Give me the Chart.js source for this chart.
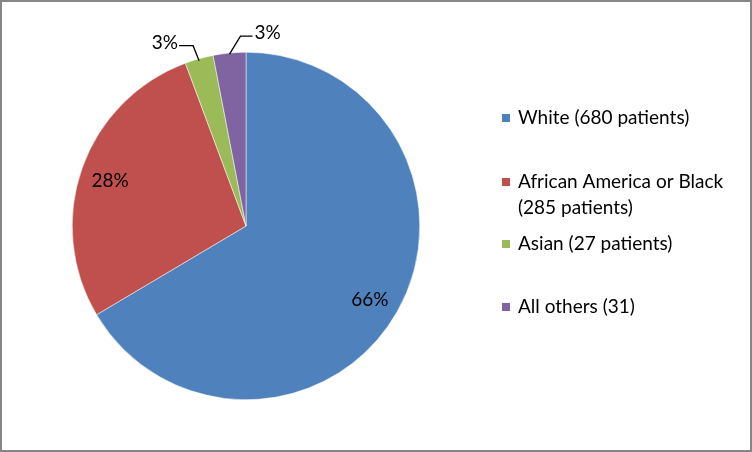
<!DOCTYPE html>
<html>
<head>
<meta charset="utf-8">
<script src="https://cdn.jsdelivr.net/npm/chart.js@4/dist/chart.umd.min.js"></script>
<style>
  html, body { margin: 0; padding: 0; background: #fff; }
  #wrap { position: relative; width: 752px; height: 452px; box-sizing: border-box; border: 2px solid #868686; }
  canvas { display: block; }
</style>
</head>
<body>
<div id="wrap"><canvas id="raceChart" width="748" height="448"></canvas></div>
<script>
const categories = ['White (680 patients)', 'African America or Black (285 patients)', 'Asian (27 patients)', 'All others (31)'];
const legendLines = [['White (680 patients)'], ['African America or Black', '(285 patients)'], ['Asian (27 patients)'], ['All others (31)']];
const patients = [680, 285, 27, 31];
const colors = ['#4F81BD', '#C0504D', '#9BBB59', '#8064A2'];

const FONT = '19px Lato, "Open Sans", sans-serif';

// percent labels: big slices inside, small ones outside with a leader line
const labelPlugin = {
    id: 'pctLabels',
    afterDatasetsDraw(chart) {
        const c = chart.ctx;
        const meta = chart.getDatasetMeta(0);
        const total = patients.reduce((a, b) => a + b, 0);
        c.save();
        c.font = FONT;
        c.fillStyle = '#000';
        c.strokeStyle = '#000';
        c.lineWidth = 1.3;
        c.textBaseline = 'middle';
        meta.data.forEach((arc, i) => {
            const pct = Math.round(patients[i] / total * 100) + '%';
            const mid = (arc.startAngle + arc.endAngle) / 2;
            const r = arc.outerRadius;
            if (patients[i] / total > 0.1) {
                const k = i === 0 ? 0.82 : 0.83;
                c.textAlign = 'center';
                c.fillText(pct, arc.x + Math.cos(mid) * r * k, arc.y + Math.sin(mid) * r * k + 3);
            } else {
                const ex = arc.x + Math.cos(mid) * r;
                const ey = arc.y + Math.sin(mid) * r;
                c.beginPath();
                if (i === 2) {
                    c.moveTo(ex, ey + 2);
                    c.lineTo(ex - 6, ey - 13);
                    c.lineTo(ex - 20, ey - 13);
                    c.stroke();
                    c.textAlign = 'right';
                    c.fillText(pct, ex - 21, ey - 16);
                } else {
                    c.moveTo(ex, ey + 1);
                    c.lineTo(ex + 11, ey - 17);
                    c.lineTo(ex + 23, ey - 17);
                    c.stroke();
                    c.textAlign = 'left';
                    c.fillText(pct, ex + 25, ey - 20);
                }
            }
        });
        c.restore();
    }
};

// legend on the right, drawn by hand to allow the wrapped label
const legendPlugin = {
    id: 'sideLegend',
    afterDraw(chart) {
        const c = chart.ctx;
        const rowY = [116, 180, 242, 305];
        c.save();
        c.font = FONT;
        c.textBaseline = 'middle';
        c.textAlign = 'left';
        legendLines.forEach((lines, i) => {
            c.fillStyle = colors[i];
            c.fillRect(500, rowY[i] - 4, 8, 8);
            c.fillStyle = '#000';
            lines.forEach((t, j) => c.fillText(t, 516, rowY[i] + j * 26));
        });
        c.restore();
    }
};

new Chart(document.getElementById('raceChart'), {
    type: 'pie',
    data: {
        labels: categories,
        datasets: [{
            data: patients,
            backgroundColor: colors,
            borderColor: '#ffffff',
            borderWidth: 0.5
        }]
    },
    options: {
        responsive: false,
        animation: false,
        layout: { padding: { left: 70, right: 330, top: 50, bottom: 50 } },
        plugins: {
            legend: { display: false },
            tooltip: { enabled: false }
        }
    },
    plugins: [labelPlugin, legendPlugin]
});
</script>
</body>
</html>
